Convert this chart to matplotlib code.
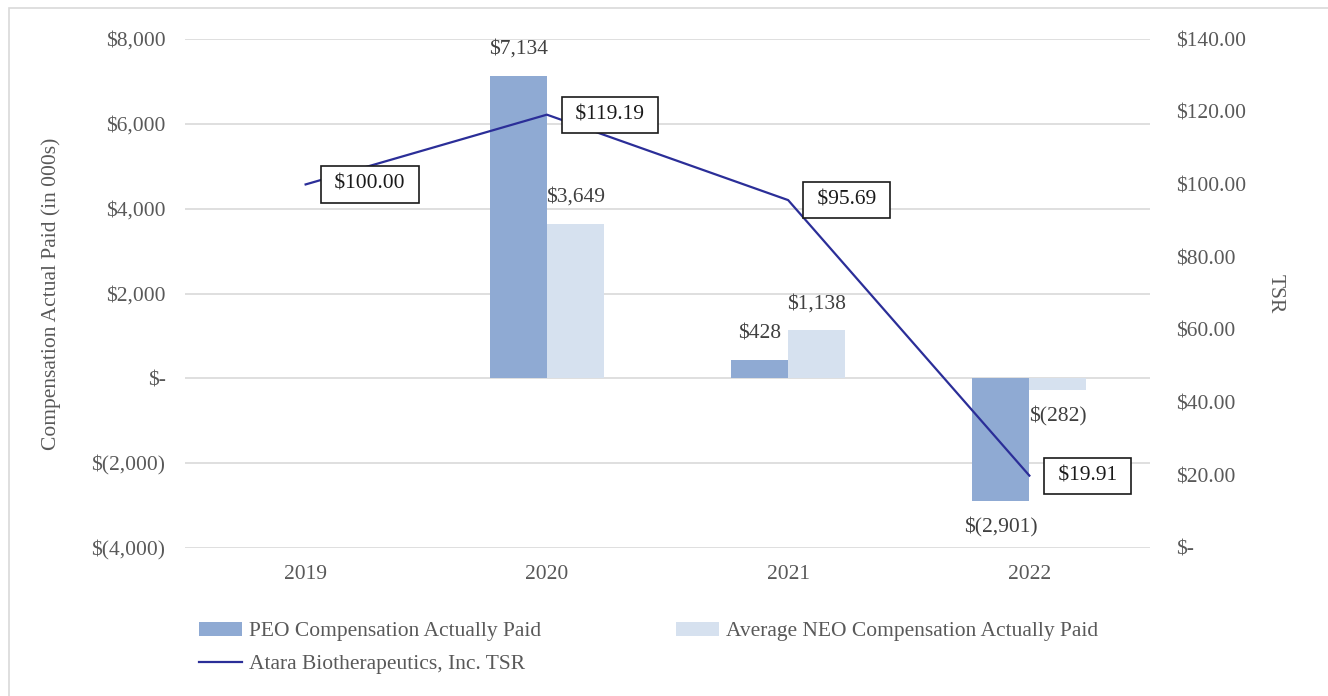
"""Compensation actually paid vs. TSR chart."""

import matplotlib

matplotlib.use("Agg")
import matplotlib.pyplot as plt
import numpy as np
from matplotlib.patches import Rectangle

years = ["2019", "2020", "2021", "2022"]
peo_cap = [np.nan, 7134, 428, -2901]
neo_cap = [np.nan, 3649, 1138, -282]
tsr = [100.00, 119.19, 95.69, 19.91]

left_ticks = [-4000, -2000, 0, 2000, 4000, 6000, 8000]
right_ticks = [0, 20, 40, 60, 80, 100, 120, 140]

PEO_COLOR = "#8FAAD3"
NEO_COLOR = "#D6E1EF"
LINE_COLOR = "#2B2E98"
GRID_COLOR = "#D9D9D9"
TICK_COLOR = "#595959"
LABEL_COLOR = "#404040"

plt.rcParams["font.family"] = ["Liberation Serif", "DejaVu Serif"]
FS = 15.5


def _money0(v):
    if v == 0:
        return "$-"
    if v < 0:
        return f"$({abs(v):,.0f})"
    return f"${v:,.0f}"


def _money2(v):
    if v == 0:
        return "$-"
    return f"${v:,.2f}"


fig = plt.figure(figsize=(13.28, 6.96), dpi=100)
ax = fig.add_axes([185 / 1328, 1 - 548 / 696, 965 / 1328, 509 / 696])
ax2 = ax.twinx()

x = np.arange(len(years))
width = 0.236
peo_bars = ax.bar(x - width / 2, peo_cap, width, color=PEO_COLOR, zorder=2,
                  label="PEO Compensation Actually Paid")
neo_bars = ax.bar(x + width / 2, neo_cap, width, color=NEO_COLOR, zorder=2,
                  label="Average NEO Compensation Actually Paid")

for bars, vals in [(peo_bars, peo_cap), (neo_bars, neo_cap)]:
    for rect, v in zip(bars, vals):
        if np.isnan(v):
            continue
        cx = rect.get_x() + rect.get_width() / 2
        dy = 19 if v >= 0 else -19
        ax.annotate(_money0(v), xy=(cx, v), xytext=(0, dy), textcoords="offset points",
                    ha="center", va="center", fontsize=FS, color=LABEL_COLOR, zorder=5)

ax.set_xlim(-0.5, len(years) - 0.5)
ax.set_ylim(left_ticks[0], left_ticks[-1])
ax.set_yticks(left_ticks)
ax.set_yticklabels([_money0(v) for v in left_ticks])
ax.set_xticks(x)
ax.set_xticklabels(years)
ax.grid(axis="y", color=GRID_COLOR, linewidth=1.2, zorder=0)
ax.set_axisbelow(True)
ax.tick_params(axis="both", length=0, labelsize=FS, colors=TICK_COLOR)
ax.tick_params(axis="y", pad=14)
ax.tick_params(axis="x", pad=12)
ax.set_ylabel("Compensation Actual Paid (in 000s)", fontsize=FS, color=TICK_COLOR)
ax.yaxis.set_label_coords(-0.129, 0.5)

(tsr_line,) = ax2.plot(x, tsr, color=LINE_COLOR, linewidth=1.6, zorder=4,
                       label="Atara Biotherapeutics, Inc. TSR")
for xi, v in zip(x, tsr):
    ax2.annotate(f" {_money2(v)} ", xy=(xi, v), xytext=(17, 0), textcoords="offset points",
                 ha="left", va="center", fontsize=FS, color="#1A1A1A", zorder=6,
                 bbox=dict(boxstyle="square,pad=0.4", facecolor="white",
                           edgecolor="#1A1A1A", linewidth=1.2))

ax2.set_ylim(right_ticks[0], right_ticks[-1])
ax2.set_yticks(right_ticks)
ax2.set_yticklabels([_money2(v) for v in right_ticks])
ax2.tick_params(axis="y", length=0, labelsize=FS, colors=TICK_COLOR, pad=19)
ax2.set_ylabel("TSR", fontsize=FS, color=TICK_COLOR, rotation=-90)
ax2.yaxis.set_label_coords(1.14, 0.5)

for a in (ax, ax2):
    for s in a.spines.values():
        s.set_visible(False)

fig.legend(
    [peo_bars, tsr_line, neo_bars],
    ["PEO Compensation Actually Paid", "Atara Biotherapeutics, Inc. TSR",
     "Average NEO Compensation Actually Paid"],
    ncol=2, loc="upper left", bbox_to_anchor=(199 / 1328, 1 - 622 / 696),
    frameon=False, fontsize=FS, labelcolor=TICK_COLOR,
    handlelength=2.0, handleheight=0.6, handletextpad=0.3,
    columnspacing=6.3, labelspacing=0.6, borderaxespad=0, borderpad=0,
)

fig.patches.append(Rectangle((9 / 1328, -0.01), 1.0, 1 - 8 / 696 + 0.01,
                             transform=fig.transFigure, fill=False,
                             edgecolor=GRID_COLOR, linewidth=1.2))

fig.savefig("out.png", dpi=100, facecolor="white")
